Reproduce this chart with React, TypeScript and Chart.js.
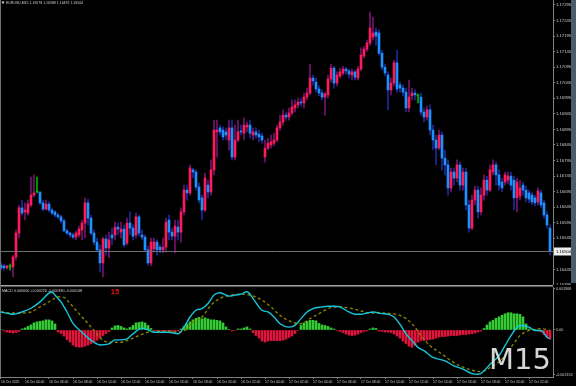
import React, { useEffect, useRef } from "react";
import { Chart, registerables } from "chart.js";

Chart.register(...registerables);

// ---------- DATA ----------
const SYMBOL = "EURUSD,M15";

const OPEN = [
  1.16459,1.16456,1.16450,1.16453,1.16453,1.16485,1.16562,1.16643,1.16630,1.16626,
  1.16652,1.16684,1.16694,1.16694,1.16659,1.16639,1.16655,1.16636,1.16630,1.16620,
  1.16614,1.16601,1.16569,1.16562,1.16556,1.16549,1.16556,1.16572,1.16594,1.16659,
  1.16610,1.16562,1.16533,1.16508,1.16466,1.16543,1.16514,1.16556,1.16556,1.16581,
  1.16565,1.16575,1.16530,1.16594,1.16578,1.16556,1.16614,1.16556,1.16549,1.16508,
  1.16466,1.16511,1.16533,1.16517,1.16508,1.16517,1.16604,1.16565,1.16552,1.16581,
  1.16565,1.16630,1.16700,1.16691,1.16765,1.16758,1.16710,1.16675,1.16636,1.16716,
  1.16694,1.16765,1.16887,1.16900,1.16893,1.16887,1.16861,1.16900,1.16806,1.16861,
  1.16890,1.16883,1.16903,1.16909,1.16877,1.16887,1.16880,1.16874,1.16806,1.16835,
  1.16845,1.16851,1.16861,1.16900,1.16919,1.16941,1.16935,1.16948,1.16964,1.16974,
  1.16983,1.16980,1.16999,1.17012,1.17060,1.17047,1.17025,1.17012,1.16999,1.17006,
  1.17057,1.17092,1.17044,1.17067,1.17076,1.17089,1.17083,1.17070,1.17080,1.17060,
  1.17089,1.17131,1.17153,1.17173,1.17192,1.17208,1.17205,1.17140,1.17095,1.17070,
  1.17022,1.17044,1.17109,1.17038,1.17028,1.17015,1.16964,1.17003,1.17012,1.17003,
  1.16999,1.16951,1.16935,1.16958,1.16893,1.16861,1.16835,1.16877,1.16803,1.16781,
  1.16707,1.16758,1.16739,1.16781,1.16716,1.16758,1.16652,1.16578,1.16668,1.16700,
  1.16630,1.16684,1.16732,1.16700,1.16758,1.16781,1.16749,1.16726,1.16726,1.16732,
  1.16745,1.16732,1.16675,1.16681,1.16716,1.16700,1.16691,1.16684,1.16675,1.16662,
  1.16691,1.16659,1.16620,1.16578,
];
const HIGH = [
  1.16469,1.16462,1.16459,1.16462,1.16491,1.16572,1.16652,1.16668,1.16659,1.16668,
  1.16742,1.16749,1.16742,1.16694,1.16668,1.16668,1.16662,1.16643,1.16633,1.16626,
  1.16620,1.16607,1.16575,1.16565,1.16562,1.16569,1.16584,1.16604,1.16675,1.16671,
  1.16620,1.16572,1.16546,1.16524,1.16549,1.16556,1.16565,1.16578,1.16597,1.16594,
  1.16597,1.16588,1.16610,1.16630,1.16588,1.16626,1.16620,1.16572,1.16556,1.16520,
  1.16546,1.16546,1.16540,1.16524,1.16546,1.16610,1.16620,1.16578,1.16604,1.16604,
  1.16643,1.16716,1.16716,1.16781,1.16771,1.16765,1.16723,1.16684,1.16755,1.16732,
  1.16797,1.16925,1.16925,1.16909,1.16903,1.16900,1.16925,1.16925,1.16909,1.16925,
  1.16909,1.16932,1.16919,1.16925,1.16900,1.16900,1.16893,1.16883,1.16861,1.16867,
  1.16877,1.16883,1.16909,1.16941,1.16958,1.16951,1.16964,1.16990,1.16990,1.16996,
  1.16996,1.17012,1.17028,1.17104,1.17070,1.17060,1.17035,1.17022,1.17015,1.17070,
  1.17104,1.17098,1.17080,1.17092,1.17098,1.17095,1.17089,1.17089,1.17086,1.17098,
  1.17157,1.17162,1.17182,1.17272,1.17256,1.17221,1.17215,1.17149,1.17104,1.17080,
  1.17060,1.17117,1.17149,1.17047,1.17038,1.17028,1.17054,1.17028,1.17022,1.17009,
  1.17012,1.16964,1.16970,1.16974,1.16909,1.16877,1.16893,1.16887,1.16829,1.16797,
  1.16771,1.16771,1.16797,1.16790,1.16771,1.16771,1.16668,1.16684,1.16713,1.16713,
  1.16707,1.16749,1.16745,1.16781,1.16797,1.16790,1.16765,1.16739,1.16758,1.16758,
  1.16758,1.16745,1.16739,1.16732,1.16726,1.16713,1.16700,1.16694,1.16684,1.16707,
  1.16700,1.16668,1.16630,1.16588,
];
const LOW = [
  1.16443,1.16443,1.16446,1.16443,1.16421,1.16475,1.16546,1.16620,1.16604,1.16620,
  1.16646,1.16678,1.16691,1.16652,1.16633,1.16636,1.16630,1.16620,1.16614,1.16607,
  1.16594,1.16565,1.16556,1.16549,1.16543,1.16540,1.16549,1.16540,1.16546,1.16588,
  1.16556,1.16524,1.16501,1.16437,1.16421,1.16491,1.16482,1.16524,1.16540,1.16556,
  1.16546,1.16517,1.16524,1.16556,1.16540,1.16546,1.16552,1.16540,1.16501,1.16459,
  1.16456,1.16501,1.16491,1.16498,1.16498,1.16501,1.16540,1.16540,1.16498,1.16540,
  1.16533,1.16620,1.16668,1.16684,1.16739,1.16700,1.16659,1.16604,1.16630,1.16675,
  1.16684,1.16749,1.16806,1.16877,1.16861,1.16861,1.16829,1.16797,1.16797,1.16855,
  1.16877,1.16861,1.16887,1.16867,1.16861,1.16867,1.16855,1.16851,1.16790,1.16829,
  1.16835,1.16842,1.16855,1.16893,1.16909,1.16925,1.16925,1.16941,1.16951,1.16964,
  1.16970,1.16964,1.16990,1.17006,1.17038,1.17015,1.17003,1.16990,1.16941,1.16996,
  1.17047,1.17028,1.17035,1.17060,1.17070,1.17073,1.17060,1.17054,1.17054,1.17054,
  1.17083,1.17125,1.17146,1.17165,1.17182,1.17165,1.17134,1.17086,1.17067,1.16958,
  1.17006,1.17035,1.17015,1.17015,1.17003,1.16951,1.16951,1.16990,1.16990,1.16980,
  1.16941,1.16919,1.16925,1.16877,1.16829,1.16781,1.16829,1.16765,1.16749,1.16684,
  1.16694,1.16716,1.16726,1.16700,1.16700,1.16636,1.16565,1.16572,1.16652,1.16610,
  1.16620,1.16668,1.16684,1.16694,1.16749,1.16716,1.16700,1.16694,1.16716,1.16720,
  1.16700,1.16636,1.16630,1.16668,1.16684,1.16662,1.16659,1.16652,1.16649,1.16652,
  1.16643,1.16610,1.16578,1.16492,
];
const CLOSE = [
  1.16450,1.16450,1.16456,1.16453,1.16485,1.16562,1.16643,1.16626,1.16636,1.16655,
  1.16684,1.16691,1.16694,1.16659,1.16639,1.16655,1.16636,1.16626,1.16620,1.16614,
  1.16601,1.16569,1.16562,1.16556,1.16549,1.16562,1.16575,1.16594,1.16659,1.16610,
  1.16562,1.16533,1.16508,1.16466,1.16543,1.16514,1.16540,1.16546,1.16581,1.16575,
  1.16575,1.16524,1.16594,1.16578,1.16552,1.16614,1.16562,1.16549,1.16508,1.16466,
  1.16533,1.16533,1.16508,1.16508,1.16517,1.16597,1.16565,1.16552,1.16584,1.16565,
  1.16630,1.16700,1.16691,1.16771,1.16758,1.16710,1.16668,1.16636,1.16739,1.16694,
  1.16765,1.16893,1.16893,1.16887,1.16871,1.16877,1.16900,1.16806,1.16861,1.16887,
  1.16887,1.16909,1.16909,1.16883,1.16887,1.16877,1.16871,1.16861,1.16835,1.16851,
  1.16855,1.16861,1.16900,1.16919,1.16941,1.16935,1.16948,1.16967,1.16974,1.16983,
  1.16980,1.16999,1.17012,1.17060,1.17051,1.17025,1.17012,1.16999,1.17009,1.17057,
  1.17092,1.17044,1.17070,1.17080,1.17089,1.17083,1.17073,1.17080,1.17063,1.17089,
  1.17134,1.17153,1.17173,1.17221,1.17205,1.17195,1.17140,1.17095,1.17076,1.17022,
  1.17044,1.17109,1.17025,1.17028,1.17015,1.16964,1.16999,1.17012,1.17006,1.17003,
  1.16951,1.16935,1.16958,1.16893,1.16861,1.16835,1.16877,1.16803,1.16781,1.16707,
  1.16758,1.16739,1.16781,1.16716,1.16758,1.16652,1.16578,1.16668,1.16700,1.16630,
  1.16684,1.16732,1.16700,1.16765,1.16781,1.16749,1.16716,1.16707,1.16749,1.16745,
  1.16716,1.16675,1.16726,1.16707,1.16700,1.16675,1.16671,1.16662,1.16659,1.16697,
  1.16652,1.16620,1.16588,1.16504,
];

// MACD histogram, one value per candle
const HIST = [
  0.000023,-0.000046,-0.000093,-0.000116,-0.000139,-0.000116,-0.000069,0.000046,0.000093,0.000162,
  0.000232,0.000324,0.000370,0.000394,0.000417,0.000463,0.000463,0.000417,0.000278,-0.000093,
  -0.000162,-0.000278,-0.000440,-0.000556,-0.000695,-0.000764,-0.000787,-0.000787,-0.000741,-0.000695,
  -0.000625,-0.000532,-0.000463,-0.000370,-0.000255,-0.000162,-0.000069,0.000093,0.000185,0.000208,
  0.000162,0.000093,0.000046,0.000116,0.000208,0.000324,0.000347,0.000370,0.000324,0.000208,
  0.000069,-0.000023,-0.000046,-0.000046,-0.000046,-0.000046,-0.000069,-0.000069,-0.000069,-0.000046,
  0.000046,0.000162,0.000278,0.000370,0.000463,0.000532,0.000579,0.000509,0.000556,0.000509,
  0.000463,0.000463,0.000440,0.000417,0.000324,0.000139,0.000023,-0.000046,-0.000023,0.000046,
  0.000046,0.000093,0.000139,0.000046,-0.000116,-0.000255,-0.000370,-0.000509,-0.000556,-0.000509,
  -0.000486,-0.000486,-0.000486,-0.000486,-0.000463,-0.000417,-0.000347,-0.000278,-0.000162,-0.000023,
  0.000208,0.000324,0.000394,0.000440,0.000440,0.000417,0.000301,0.000232,0.000208,0.000162,
  0.000093,0.000046,-0.000023,-0.000069,-0.000116,-0.000185,-0.000232,-0.000255,-0.000232,-0.000185,
  -0.000116,-0.000069,-0.000046,0.000046,0.000093,0.000069,-0.000046,-0.000069,-0.000093,-0.000093,
  -0.000116,-0.000185,-0.000278,-0.000370,-0.000509,-0.000625,-0.000741,-0.000787,-0.000695,-0.000556,
  -0.000486,-0.000486,-0.000463,-0.000440,-0.000417,-0.000370,-0.000324,-0.000301,-0.000301,-0.000278,
  -0.000255,-0.000255,-0.000255,-0.000232,-0.000208,-0.000208,-0.000185,-0.000162,-0.000139,-0.000093,
  -0.000046,0.000069,0.000232,0.000370,0.000440,0.000532,0.000602,0.000671,0.000741,0.000787,
  0.000787,0.000741,0.000741,0.000718,0.000602,0.000278,0.000046,0.000023,0.000023,-0.000046,
  -0.000093,-0.000208,-0.000324,-0.000417,
];

// MACD main line (candle index, value)
const MACD_K = [0,3,4,7,10,13,16,17,18,20,22,24,27,29,31,33,36,38,40,42,44,47,49,51,56,59,61,63,65,67,69,71,73,76,78,80,82,84,87,89,91,93,96,98,100,102,104,107,109,111,113,116,118,120,122,124,127,129,131,133,135,137,139,141,144,148,151,154,157,159,161,163,166,168,170,172,173,176,178,180,182,183];
const MACD_V = [0.000824,0.000741,0.000718,0.000824,0.000995,0.001287,0.001690,0.001736,0.001597,0.001287,0.000824,0.000301,-0.000102,-0.000361,-0.000565,-0.000685,-0.000639,-0.000454,-0.000454,-0.000407,-0.000176,0.000083,0.000009,-0.000102,-0.000102,-0.000176,0.000130,0.000593,0.000903,0.000982,0.001213,0.001597,0.001704,0.001551,0.001597,0.001644,0.001750,0.001445,0.000903,0.000824,0.000593,0.000287,0.000130,0.000208,0.000519,0.000824,0.000982,0.001056,0.001088,0.001088,0.001056,0.000824,0.000718,0.000718,0.000778,0.000824,0.000750,0.000718,0.000593,0.000255,-0.000176,-0.000486,-0.000796,-0.000949,-0.001259,-0.001412,-0.001644,-0.001796,-0.002000,-0.002028,-0.001875,-0.001565,-0.001181,-0.000718,-0.000255,0.000130,0.000208,0.000130,-0.000023,-0.000023,-0.000333,-0.000407];

// Signal line (candle index, value)
const SIGNAL_K = [0,3,7,10,13,17,19,21,23,26,29,32,34,37,40,42,46,49,52,56,59,62,64,67,70,73,77,80,83,87,90,93,97,100,103,107,110,113,117,120,123,127,130,133,137,140,143,147,150,153,157,160,163,167,170,173,177,180,183];
const SIGNAL_V = [0.000824,0.000778,0.000778,0.000824,0.001056,0.001366,0.001519,0.001491,0.001213,0.000750,0.000287,-0.000176,-0.000486,-0.000565,-0.000565,-0.000486,-0.000255,-0.000102,-0.000056,-0.000056,-0.000102,0.000056,0.000361,0.000593,0.001134,0.001445,0.001597,0.001644,0.001597,0.001366,0.001056,0.000671,0.000361,0.000287,0.000519,0.000824,0.001028,0.001056,0.000982,0.000870,0.000778,0.000778,0.000750,0.000671,0.000287,-0.000255,-0.000718,-0.001102,-0.001412,-0.001644,-0.001843,-0.001908,-0.001722,-0.001333,-0.000796,-0.000255,0.000009,0.000056,-0.000023];

const PRICE_MIN = 1.16395;
const PRICE_MAX = 1.17311;
const PRICE_TICKS = [1.17295,1.17245,1.17195,1.17145,1.17095,1.17045,1.16995,1.16945,1.16895,1.16845,1.16795,1.16745,1.16695,1.16645,1.16595,1.16545,1.16495,1.16445,1.16395];

const MACD_MIN = -0.002153;
const MACD_MAX = 0.001968;
const MACD_TICKS = [0.00188, 0, -0.00206];
const MACD_TICK_LABELS = ["0.001968", "0.00", "-0.002153"];
const MACD_HEADER = "MACD 0.000000 -0.000226 -0.000380 -0.000148";
const TIMER_TEXT = "15";
const PERIOD_TEXT = "M15";

const TIME_TICKS = [0,8,16,24,32,40,48,56,64,72,80,88,96,104,112,120,128,136,144,152,160,168,176];
const TIME_LABELS = [
  "16 Oct 2025","16 Oct 04:00","16 Oct 06:00","16 Oct 08:00","16 Oct 10:00","16 Oct 12:00",
  "16 Oct 14:00","16 Oct 16:00","16 Oct 18:00","16 Oct 20:00","16 Oct 22:00","17 Oct 00:00",
  "17 Oct 02:00","17 Oct 04:00","17 Oct 06:00","17 Oct 08:00","17 Oct 10:00","17 Oct 12:00",
  "17 Oct 14:00","17 Oct 16:00","17 Oct 18:00","17 Oct 20:00","17 Oct 22:00",
];

// ---------- STYLE ----------
const FONT = "'Liberation Sans', Arial, sans-serif";
const TEXT = "#cfcfcf";
const FRAME = "#808080";
const BULL = "#ff1a5c";
const BEAR = "#1e90ff";
const DOJI = "#00b400";
const BULL_WICK = "#74146f";
const BEAR_WICK = "#1c2a9c";
const X_MIN = -1 / 3;
const X_MAX = 184;

const blackBg = {
  id: "blackBg",
  beforeDraw(chart: any) {
    const ctx = chart.ctx;
    ctx.save();
    ctx.fillStyle = "#000";
    ctx.fillRect(0, 0, chart.width, chart.height);
    ctx.restore();
  },
};

export default function App() {
  const mainRef = useRef<HTMLCanvasElement | null>(null);
  const macdRef = useRef<HTMLCanvasElement | null>(null);

  useEffect(() => {
    if (!mainRef.current || !macdRef.current) return;
    const n = OPEN.length;
    const idx = OPEN.map((_, i) => i);
    const dir = idx.map((i) => (CLOSE[i] > OPEN[i] ? 1 : CLOSE[i] < OPEN[i] ? -1 : 0));
    const bodyColors = dir.map((d) => (d > 0 ? BULL : d < 0 ? BEAR : DOJI));
    const wickColors = dir.map((d) => (d > 0 ? BULL_WICK : d < 0 ? BEAR_WICK : DOJI));
    const last = n - 1;

    const mainOverlay = {
      id: "mainOverlay",
      afterDatasetsDraw(chart: any) {
        const { ctx, chartArea: ca, scales } = chart;
        const py = Math.round(scales.y.getPixelForValue(CLOSE[last])) + 0.5;
        ctx.save();
        ctx.strokeStyle = "#6f6f6f";
        ctx.lineWidth = 1;
        ctx.beginPath();
        ctx.moveTo(ca.left, py);
        ctx.lineTo(ca.right, py);
        ctx.stroke();
        ctx.restore();
      },
      afterDraw(chart: any) {
        const { ctx, chartArea: ca, scales } = chart;
        const py = Math.round(scales.y.getPixelForValue(CLOSE[last])) + 0.5;
        ctx.save();
        ctx.fillStyle = "#eeeeee";
        ctx.fillRect(ca.right + 1, py - 4, 18, 8);
        ctx.fillStyle = "#000";
        ctx.font = `4.2px ${FONT}`;
        ctx.textBaseline = "middle";
        ctx.textAlign = "left";
        ctx.fillText(CLOSE[last].toFixed(5), ca.right + 3, py);
        ctx.fillStyle = TEXT;
        ctx.font = `3.5px ${FONT}`;
        ctx.fillText(
          `${SYMBOL} ${OPEN[last].toFixed(5)} ${HIGH[last].toFixed(5)} ${LOW[last].toFixed(5)} ${CLOSE[last].toFixed(5)}`,
          6, 3.5
        );
        ctx.fillStyle = "#d8d8d8";
        ctx.beginPath();
        ctx.moveTo(1.5, 1.5);
        ctx.lineTo(4.5, 1.5);
        ctx.lineTo(3, 4.2);
        ctx.closePath();
        ctx.fill();
        ctx.fillStyle = "#707070";
        ctx.fillRect(0, 0, 1, chart.height);
        ctx.fillStyle = "#4e5c69";
        ctx.fillRect(571, 0, 5, chart.height - 2);
        ctx.restore();
      },
    };

    const macdOverlay = {
      id: "macdOverlay",
      afterDraw(chart: any) {
        const { ctx, chartArea: ca } = chart;
        ctx.save();
        ctx.fillStyle = "#a6a6a6";
        ctx.fillRect(0, 0, ca.right, 1.5);
        ctx.fillStyle = "#5a5a5a";
        ctx.fillRect(0, 1.5, ca.right, 0.6);
        ctx.fillStyle = "#707070";
        ctx.fillRect(0, 0, 1, ca.bottom);
        ctx.textBaseline = "middle";
        ctx.textAlign = "left";
        ctx.fillStyle = TEXT;
        ctx.font = `3.7px ${FONT}`;
        ctx.fillText(MACD_HEADER, 2, 6);
        ctx.fillStyle = "#e01818";
        ctx.font = `bold 7.5px ${FONT}`;
        ctx.textAlign = "center";
        ctx.fillText(TIMER_TEXT, 115, 7);
        ctx.fillStyle = "#d6d6d6";
        ctx.font = `29px 'DejaVu Sans', ${FONT}`;
        ctx.textAlign = "left";
        ctx.textBaseline = "alphabetic";
        ctx.fillText(PERIOD_TEXT, 489, 84);
        ctx.restore();
      },
    };

    const rightAxisFit = (s: any) => {
      s.width = 23;
      s.paddingTop = 0;
      s.paddingBottom = 0;
    };

    const mainChart = new Chart(mainRef.current, {
      type: "bar",
      data: {
        datasets: [
          {
            label: "wick",
            data: idx.map((i) => ({ x: i, y: [LOW[i], HIGH[i]] })) as any,
            backgroundColor: wickColors,
            barThickness: 1,
            grouped: false,
            borderWidth: 0,
            order: 2,
          } as any,
          {
            label: "body",
            data: idx.map((i) => ({ x: i, y: [Math.min(OPEN[i], CLOSE[i]), Math.max(OPEN[i], CLOSE[i])] })) as any,
            backgroundColor: bodyColors,
            barThickness: 2,
            minBarLength: 1,
            grouped: false,
            borderWidth: 0,
            order: 1,
          } as any,
        ],
      },
      options: {
        animation: false,
        responsive: false,
        maintainAspectRatio: false,
        devicePixelRatio: 1,
        layout: { padding: 0 },
        events: [],
        plugins: { legend: { display: false }, tooltip: { enabled: false } },
        scales: {
          x: { type: "linear", min: X_MIN, max: X_MAX, display: false, offset: false, grid: { offset: false } },
          y: {
            type: "linear",
            position: "right",
            min: PRICE_MIN,
            max: PRICE_MAX,
            afterBuildTicks: (s: any) => {
              s.ticks = PRICE_TICKS.map((v) => ({ value: v }));
            },
            afterFit: rightAxisFit,
            ticks: {
              color: TEXT,
              font: { size: 4.2, family: FONT },
              padding: 1,
              callback: (v: any) => Number(v).toFixed(5),
            },
            grid: { display: true, drawOnChartArea: false, tickLength: 2, color: FRAME },
            border: { display: true, color: FRAME, width: 1 },
          },
        },
      } as any,
      plugins: [blackBg, mainOverlay],
    });

    const macdChart = new Chart(macdRef.current, {
      type: "bar",
      data: {
        datasets: [
          {
            type: "line",
            label: "MACD",
            data: MACD_K.map((k, i) => ({ x: k, y: MACD_V[i] })),
            borderColor: "#14c8dc",
            borderWidth: 1.4,
            pointRadius: 0,
            cubicInterpolationMode: "monotone",
            order: 1,
          } as any,
          {
            type: "line",
            label: "Signal",
            data: SIGNAL_K.map((k, i) => ({ x: k, y: SIGNAL_V[i] })),
            borderColor: "#857f00",
            borderWidth: 1.4,
            borderDash: [3, 2.5],
            pointRadius: 0,
            cubicInterpolationMode: "monotone",
            order: 2,
          } as any,
          {
            type: "bar",
            label: "Histogram",
            data: idx.map((i) => ({ x: i, y: HIST[i] })),
            backgroundColor: HIST.map((v) => (v >= 0 ? "#34cc34" : "#e0143c")),
            barThickness: 2,
            grouped: false,
            borderWidth: 0,
            order: 3,
          } as any,
        ],
      },
      options: {
        animation: false,
        responsive: false,
        maintainAspectRatio: false,
        devicePixelRatio: 1,
        layout: { padding: { top: 2, left: 0, right: 0, bottom: 0 } },
        events: [],
        plugins: { legend: { display: false }, tooltip: { enabled: false } },
        scales: {
          x: {
            type: "linear",
            min: X_MIN,
            max: X_MAX,
            offset: false,
            afterBuildTicks: (s: any) => {
              s.ticks = TIME_TICKS.map((v) => ({ value: v }));
            },
            afterFit: (s: any) => {
              s.height = 9;
              s.paddingLeft = 0;
              s.paddingRight = 0;
            },
            ticks: {
              align: "start",
              color: TEXT,
              font: { size: 3.4, family: FONT },
              padding: 1,
              maxRotation: 0,
              minRotation: 0,
              autoSkip: false,
              callback: (_v: any, i: number) => TIME_LABELS[i],
            },
            grid: { display: true, offset: false, drawOnChartArea: false, tickLength: 2, color: FRAME },
            border: { display: true, color: FRAME, width: 1 },
          },
          y: {
            type: "linear",
            position: "right",
            min: MACD_MIN,
            max: MACD_MAX,
            afterBuildTicks: (s: any) => {
              s.ticks = MACD_TICKS.map((v) => ({ value: v }));
            },
            afterFit: rightAxisFit,
            ticks: {
              color: TEXT,
              font: { size: 3.7, family: FONT },
              padding: 1,
              callback: (_v: any, i: number) => MACD_TICK_LABELS[i],
            },
            grid: { display: true, drawOnChartArea: false, tickLength: 2, color: FRAME },
            border: { display: true, color: FRAME, width: 1 },
          },
        },
      } as any,
      plugins: [blackBg, macdOverlay],
    });

    return () => {
      mainChart.destroy();
      macdChart.destroy();
    };
  }, []);

  return (
    <div style={{ position: "fixed", left: 0, top: 0, width: 576, height: 386, background: "#000", overflow: "hidden" }}>
      <canvas ref={mainRef} width={576} height={285} style={{ position: "absolute", left: 0, top: 0, width: 576, height: 285 }} />
      <canvas ref={macdRef} width={576} height={101} style={{ position: "absolute", left: 0, top: 285, width: 576, height: 101 }} />
    </div>
  );
}
